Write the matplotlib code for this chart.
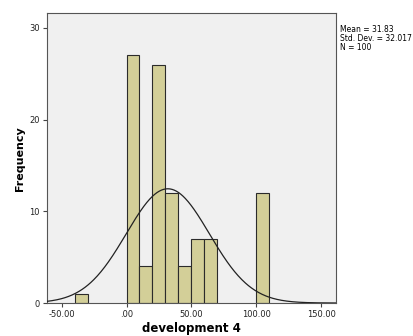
import matplotlib
matplotlib.use("Agg")
import matplotlib.pyplot as plt
import numpy as np

# histogram of development 4 (bin width 10)
bin_left = [-40, 0, 10, 20, 30, 40, 50, 60, 100]
counts = [1, 27, 4, 26, 12, 4, 7, 7, 12]
bin_width = 10
mean = 31.83
std = 32.017
n = 100
x_ticks = [-50, 0, 50, 100, 150]
x_tick_labels = ["-50.00", ".00", "50.00", "100.00", "150.00"]
y_ticks = [0, 10, 20, 30]

fig = plt.figure(figsize=(4.14, 3.36), dpi=100)
ax = fig.add_axes([0.1128, 0.0982, 0.699, 0.8622])
ax.set_facecolor("#f0f0f0")

ax.bar(bin_left, counts, width=bin_width, align="edge",
       color="#d3cf98", edgecolor="#2b2b2b", linewidth=0.8, zorder=2)

xs = np.linspace(-61.5, 161.5, 400)
ys = n * bin_width / (std * np.sqrt(2 * np.pi)) * np.exp(-0.5 * ((xs - mean) / std) ** 2)
ax.plot(xs, ys, color="#222222", linewidth=0.9, zorder=3)

ax.set_xlim(-61.5, 161.5)
ax.set_ylim(0, 31.6)
ax.set_xticks(x_ticks)
ax.set_xticklabels(x_tick_labels)
ax.set_yticks(y_ticks)
ax.tick_params(labelsize=6, length=3, width=0.8, color="#444444",
               labelcolor="#222222", pad=2)
for s in ax.spines.values():
    s.set_color("#555555")
    s.set_linewidth(0.8)

ax.set_xlabel("development 4", fontsize=8.5, fontweight="bold", labelpad=2)
ax.set_ylabel("Frequency", fontsize=8, fontweight="bold", labelpad=3)

fig.text(0.822, 0.925, "Mean = 31.83\nStd. Dev. = 32.017\nN = 100",
         fontsize=5.5, va="top", ha="left", linespacing=0.95)

plt.savefig("out.png", dpi=100)
